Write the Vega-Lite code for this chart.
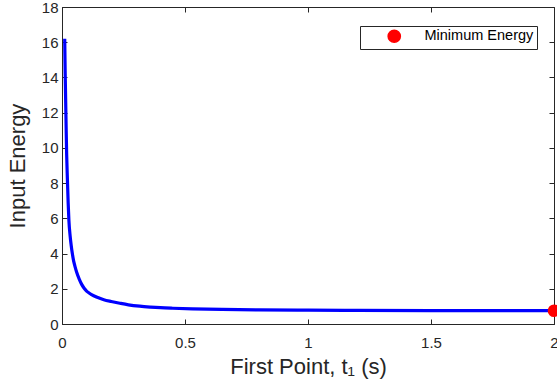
{
  "$schema": "https://vega.github.io/schema/vega-lite/v6.json",
  "autosize": "none",
  "width": 492,
  "height": 317,
  "padding": {"left": 62, "top": 7, "right": 3, "bottom": 66},
  "background": "white",
  "config": {
    "font": "Liberation Sans",
    "view": {"stroke": "#262626", "strokeWidth": 1},
    "axis": {
      "domainColor": "#262626",
      "tickColor": "#262626",
      "labelColor": "#262626",
      "titleColor": "#262626",
      "labelFont": "Liberation Sans",
      "titleFont": "Liberation Sans",
      "labelFontSize": 15,
      "titleFontSize": 22,
      "titleFontWeight": "normal",
      "grid": false,
      "tickSize": -5,
      "labelFlush": false
    },
    "legend": {
      "labelFont": "Liberation Sans",
      "labelFontSize": 14.5,
      "labelColor": "#000000"
    }
  },
  "datasets": {
    "curve": [
      {"t": 0.011, "E": 16.2},
      {"t": 0.013, "E": 14.2},
      {"t": 0.015, "E": 12.6},
      {"t": 0.017, "E": 11.0},
      {"t": 0.019, "E": 9.6},
      {"t": 0.022, "E": 8.2},
      {"t": 0.025, "E": 6.9},
      {"t": 0.028, "E": 5.9},
      {"t": 0.033, "E": 5.0},
      {"t": 0.037, "E": 4.5},
      {"t": 0.042, "E": 4.0},
      {"t": 0.047, "E": 3.6},
      {"t": 0.053, "E": 3.26},
      {"t": 0.06, "E": 2.92},
      {"t": 0.07, "E": 2.55},
      {"t": 0.08, "E": 2.25},
      {"t": 0.09, "E": 2.03},
      {"t": 0.1, "E": 1.87},
      {"t": 0.11, "E": 1.76},
      {"t": 0.12, "E": 1.67},
      {"t": 0.14, "E": 1.53},
      {"t": 0.17, "E": 1.38},
      {"t": 0.2, "E": 1.28},
      {"t": 0.235, "E": 1.18},
      {"t": 0.27, "E": 1.09},
      {"t": 0.316, "E": 1.01},
      {"t": 0.36, "E": 0.96},
      {"t": 0.4, "E": 0.925},
      {"t": 0.45, "E": 0.895},
      {"t": 0.53, "E": 0.86},
      {"t": 0.65, "E": 0.825},
      {"t": 0.8, "E": 0.8},
      {"t": 1.0, "E": 0.785},
      {"t": 1.2, "E": 0.775},
      {"t": 1.5, "E": 0.765},
      {"t": 1.75, "E": 0.76},
      {"t": 2.0, "E": 0.755}
    ],
    "minimum": [
      {"t": 2.0, "E": 0.755, "label": "Minimum Energy"}
    ]
  },
  "layer": [
    {
      "data": {"name": "curve"},
      "mark": {"type": "line", "color": "#0000FF", "strokeWidth": 3.2, "interpolate": "monotone"},
      "encoding": {
        "x": {
          "field": "t", "type": "quantitative",
          "scale": {"domain": [0, 2], "nice": false},
          "axis": {"orient": "bottom", "values": [0, 0.5, 1, 1.5, 2], "format": "~g", "title": "First Point, t\u2081  (s)", "labelPadding": 16, "titlePadding": 6}
        },
        "y": {
          "field": "E", "type": "quantitative",
          "scale": {"domain": [0, 18], "nice": false},
          "axis": {"orient": "left", "values": [0, 2, 4, 6, 8, 10, 12, 14, 16, 18], "title": "Input Energy", "labelPadding": 9, "titlePadding": 12}
        }
      }
    },
    {
      "data": {"name": "minimum"},
      "mark": {"type": "point", "filled": true, "shape": "circle", "size": 160, "opacity": 1},
      "encoding": {
        "x": {
          "field": "t", "type": "quantitative",
          "axis": {"orient": "top", "values": [0, 0.5, 1, 1.5, 2], "labels": false, "title": null, "domain": false}
        },
        "y": {
          "field": "E", "type": "quantitative",
          "axis": {"orient": "right", "values": [0, 2, 4, 6, 8, 10, 12, 14, 16, 18], "labels": false, "title": null, "domain": false}
        },
        "color": {
          "field": "label", "type": "nominal",
          "scale": {"domain": ["Minimum Energy"], "range": ["#FF0000"]},
          "legend": {
            "title": null,
            "orient": "none",
            "legendX": 298,
            "legendY": 19,
            "strokeColor": "#262626",
            "fillColor": "white",
            "padding": 3,
            "symbolOffset": 24,
            "labelOffset": 23,
            "symbolSize": 150,
            "symbolType": "circle",
            "symbolFillColor": "#FF0000",
            "symbolStrokeColor": "#FF0000"
          }
        }
      }
    }
  ],
  "resolve": {"axis": {"x": "independent", "y": "independent"}}
}
